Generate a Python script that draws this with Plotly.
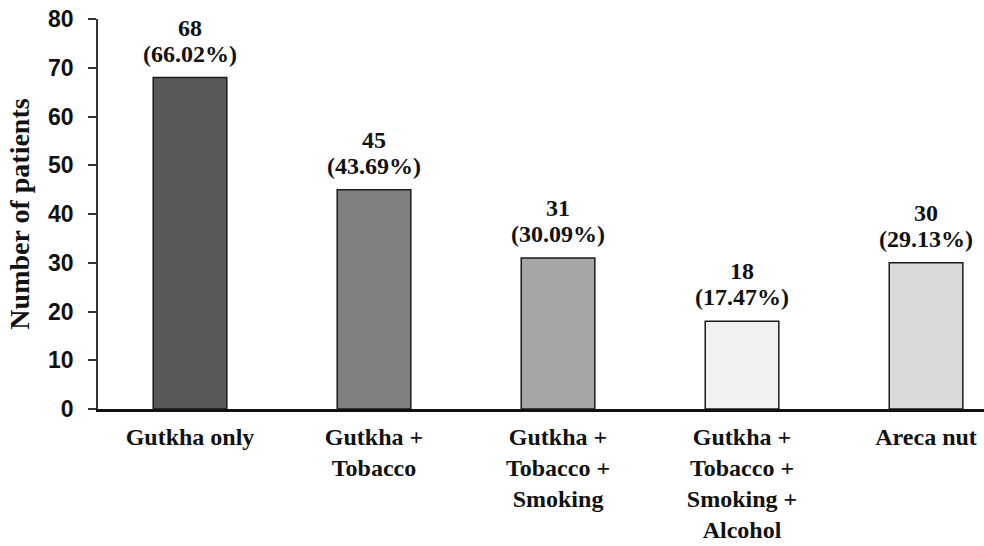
import plotly.graph_objects as go

# Patients by habit category
categories = [
    "Gutkha only",
    "Gutkha +<br>Tobacco",
    "Gutkha +<br>Tobacco +<br>Smoking",
    "Gutkha +<br>Tobacco +<br>Smoking +<br>Alcohol",
    "Areca nut",
]
patients = [68, 45, 31, 18, 30]
percentages = ["66.02%", "43.69%", "30.09%", "17.47%", "29.13%"]
bar_colors = ["#595959", "#808080", "#a6a6a6", "#f2f2f2", "#d9d9d9"]
y_ticks = [0, 10, 20, 30, 40, 50, 60, 70, 80]

serif = "Liberation Serif, Times New Roman, serif"
sans = "Liberation Sans, Arial, sans-serif"

fig = go.Figure(
    go.Bar(
        x=categories,
        y=patients,
        marker=dict(color=bar_colors, line=dict(color="#1a1a1a", width=1.5)),
        width=0.4,
        hoverinfo="skip",
    )
)

# Count and percentage above each bar
annotations = []
for cat, n, pct in zip(categories, patients, percentages):
    annotations.append(dict(
        x=cat, y=n, xref="x", yref="y", text=f"({pct})", showarrow=False,
        yshift=24, font=dict(family=serif, size=24, color="#111", weight="bold"),
    ))
    annotations.append(dict(
        x=cat, y=n, xref="x", yref="y", text=f"{n}", showarrow=False,
        yshift=50, font=dict(family=serif, size=24, color="#111", weight="bold"),
    ))

fig.update_layout(
    width=984,
    height=546,
    margin=dict(l=98, r=0, t=19, b=137),
    paper_bgcolor="white",
    plot_bgcolor="white",
    showlegend=False,
    annotations=annotations,
    xaxis=dict(
        range=[-0.5, 4.315],
        automargin=False,
        showline=True, linecolor="#111", linewidth=2.5,
        ticks="", showgrid=False, zeroline=False,
        tickfont=dict(family=serif, size=24, color="#111", weight="bold"),
        ticklabelstandoff=4,
    ),
    yaxis=dict(
        range=[0, 80],
        automargin=False,
        tickvals=y_ticks,
        showline=True, linecolor="#333", linewidth=1.5,
        ticks="outside", ticklen=8, tickwidth=1.5, tickcolor="#333",
        showgrid=False, zeroline=False,
        tickfont=dict(family=sans, size=23, color="#111", weight="bold"),
        ticklabelstandoff=10,
        title=dict(text="Number of patients",
                   font=dict(family=serif, size=28, color="#111", weight="bold"),
                   standoff=10),
    ),
)

fig.write_html("out.html")
